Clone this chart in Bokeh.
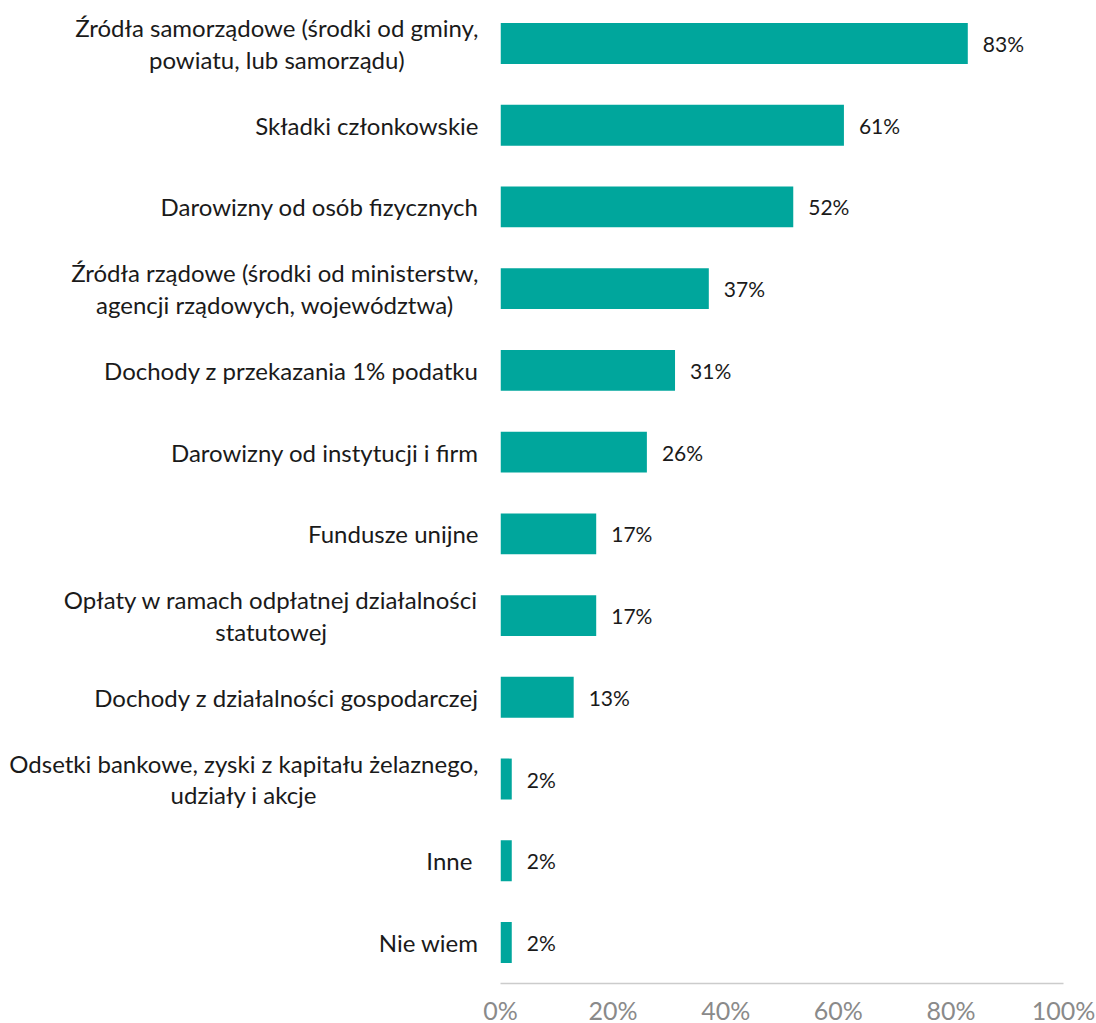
from bokeh.plotting import figure
from bokeh.models import ColumnDataSource, Range1d, FixedTicker, PrintfTickFormatter
from bokeh.embed import file_html
from bokeh.resources import INLINE
from bokeh.core.properties import value

categories = [
    "Źródła samorządowe (środki od gminy,\npowiatu, lub samorządu)",
    "Składki członkowskie",
    "Darowizny od osób fizycznych",
    "Źródła rządowe (środki od ministerstw,\nagencji rządowych, województwa)",
    "Dochody z przekazania 1% podatku",
    "Darowizny od instytucji i firm",
    "Fundusze unijne",
    "Opłaty w ramach odpłatnej działalności\nstatutowej",
    "Dochody z działalności gospodarczej",
    "Odsetki bankowe, zyski z kapitału żelaznego,\nudziały i akcje",
    "Inne ",
    "Nie wiem",
]
shares = [83, 61, 52, 37, 31, 26, 17, 17, 13, 2, 2, 2]
x_ticks = [0, 20, 40, 60, 80, 100]

FONT = "Lato"
BAR = "#00A69C"

idx = list(range(len(categories)))
src = ColumnDataSource(dict(
    y=idx,
    share=shares,
    label=[f"{v}%" for v in shares],
    cat=categories,
    zero=[0] * len(categories),
))

p = figure(
    width=1096, height=1050,
    x_range=Range1d(0, 100),
    y_range=Range1d(len(categories) - 0.498, -0.428),
    output_backend="svg", toolbar_location=None,
    min_border_left=500, min_border_right=33,
    min_border_top=8, min_border_bottom=67,
)
p.outline_line_color = None
p.xgrid.grid_line_color = None
p.ygrid.grid_line_color = None
p.background_fill_color = "white"
p.border_fill_color = "white"

p.hbar(y="y", left=0, right="share", height=0.5, source=src,
       fill_color=BAR, line_color=None)

p.text(x="share", y="y", text="label", source=src,
       x_offset=15, text_align="left", text_baseline="middle",
       text_font=value(FONT), text_font_size="21px", text_color="#1a1a1a")

# category labels: block anchored right of the bar start, lines centred
p.text(x="zero", y="y", text="cat", source=src,
       x_offset=-22, anchor="center_right", text_align="center",
       text_baseline="middle", text_line_height=1.1,
       text_font=value(FONT), text_font_size="24px", text_color="#1a1a1a",
       level="overlay")

# x axis
p.xaxis.ticker = FixedTicker(ticks=x_ticks)
p.xaxis.formatter = PrintfTickFormatter(format="%d%%")
p.xaxis.axis_line_color = "#cccccc"
p.xaxis.axis_line_width = 1.5
p.xaxis.major_tick_line_color = None
p.xaxis.minor_tick_line_color = None
p.xaxis.major_label_standoff = 5
p.xaxis.major_label_text_font = FONT
p.xaxis.major_label_text_font_size = "25px"
p.xaxis.major_label_text_color = "#8a8a8a"

# y axis hidden (labels drawn as text above)
p.yaxis.visible = False

open("out.html", "w").write(file_html(p, INLINE))
